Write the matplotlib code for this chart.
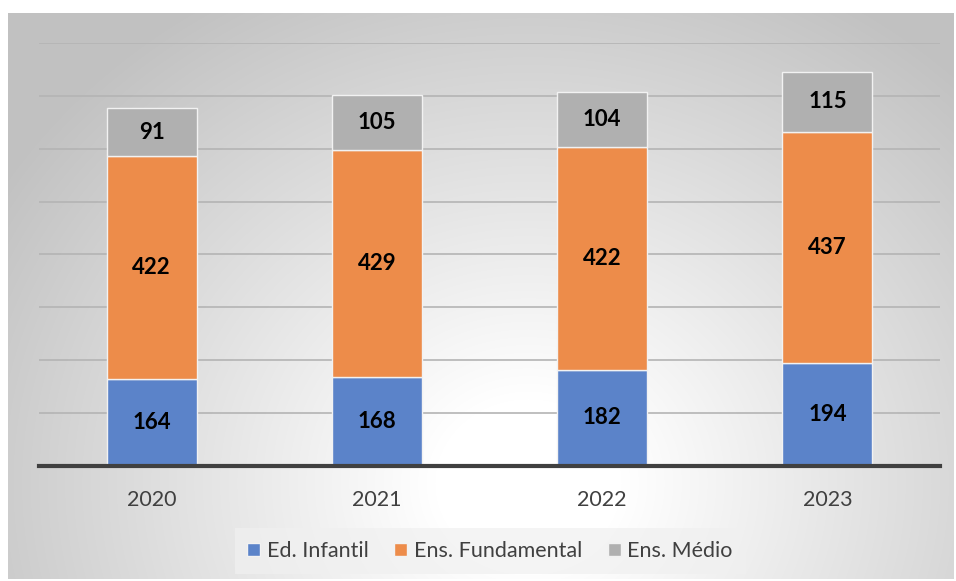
import numpy as np
import matplotlib.pyplot as plt

anos = ['2020', '2021', '2022', '2023']
ed_infantil = [164, 168, 182, 194]
ens_fundamental = [422, 429, 422, 437]
ens_medio = [91, 105, 104, 115]
series = ['Ed. Infantil', 'Ens. Fundamental', 'Ens. Médio']
cores = ['#5b83c9', '#ed8c4a', '#b0b0b0']

plt.rcParams['font.family'] = ['Lato', 'DejaVu Sans']

W, H = 956, 581
fig = plt.figure(figsize=(W / 100, H / 100), dpi=100)

# fundo com gradiente radial
bg = fig.add_axes([8 / W, 1 - 579 / H, 946 / W, 566 / H])
yy, xx = np.mgrid[0:566, 0:946]
d = np.sqrt(((xx - 520) / 620.0) ** 2 + ((yy - 470) / 560.0) ** 2)
g = 1 - 0.24 * np.clip((d - 0.15) / 0.85, 0, 1)
bg.imshow(np.dstack([g, g, g]), aspect='auto', interpolation='bilinear')
bg.axis('off')

ax = fig.add_axes([39 / W, 1 - 466 / H, 901 / W, 423 / H])
ax.patch.set_alpha(0)
x = np.arange(len(anos))
base = np.zeros(len(anos))
for nome, vals, cor in zip(series, [ed_infantil, ens_fundamental, ens_medio], cores):
    bars = ax.bar(x, vals, 0.4, bottom=base, color=cor, edgecolor='#f2f2f2',
                  linewidth=1, label=nome, zorder=3)
    ax.bar_label(bars, label_type='center', fontsize=16, fontweight='bold', color='black')
    base = base + np.array(vals)

ax.set_xlim(-0.5, 3.5)
ax.set_ylim(0, 800)
ax.set_yticks(range(100, 801, 100))
ax.yaxis.grid(True, color='#b4b4b4', linewidth=1.2, zorder=0)
ax.tick_params(axis='y', left=False, labelleft=False)
ax.set_xticks(x)
ax.set_xticklabels(anos, fontsize=15.5, color='#404040')
ax.tick_params(axis='x', length=0, pad=17)
for s in ['top', 'right', 'left']:
    ax.spines[s].set_visible(False)
ax.spines['bottom'].set_color('#404040')
ax.spines['bottom'].set_linewidth(3)
ax.spines['bottom'].set_zorder(4)

leg = fig.legend(loc='center', bbox_to_anchor=(490 / W, 1 - 551 / H), ncol=3, fontsize=15.5,
                 frameon=True, fancybox=False, handlelength=0.6, handleheight=0.6,
                 handletextpad=0.3, columnspacing=1.2, labelcolor='#404040',
                 borderpad=0.6)
leg.get_frame().set_facecolor('#f0f0f0')
leg.get_frame().set_alpha(0.7)
leg.get_frame().set_edgecolor('none')

fig.savefig('out.png', dpi=100)
